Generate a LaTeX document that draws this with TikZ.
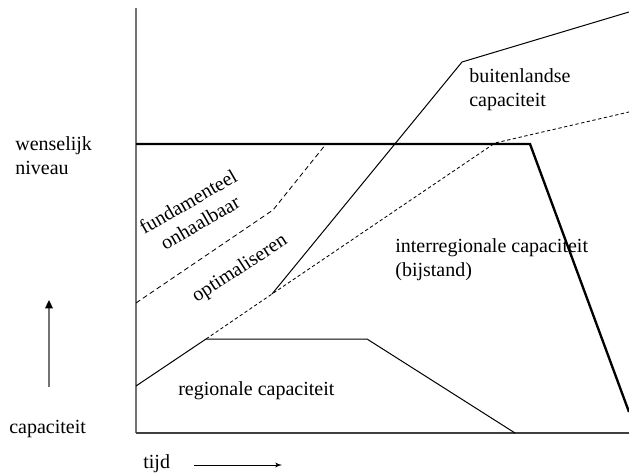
\documentclass[tikz,border=0pt]{standalone}
\usepackage{fontspec}
\setmainfont{Liberation Serif}
\usetikzlibrary{arrows,arrows.meta,positioning}

\begin{document}
\begin{tikzpicture}[x=0.6pt, y=-0.6pt, font=\fontsize{12}{14.4}\selectfont]
\tikzstyle{axis} = [draw, black!55, line width=1.1pt]
\tikzstyle{level} = [draw, line width=1.4pt]
\tikzstyle{curve} = [draw, line width=0.6pt]
\tikzstyle{bound} = [draw, line width=0.5pt, dash pattern=on 3pt off 2pt]
\tikzstyle{optim} = [draw, line width=0.5pt, dash pattern=on 2pt off 1.5pt]
\tikzstyle{label} = [inner sep=0pt, anchor=base west, align=left]
\tikzstyle{line} = [draw, -latex']

\useasboundingbox (0,0) rectangle (629,473);

% assen
\coordinate (origin) at (136,433);
\coordinate (ytop) at (136,8);
\coordinate (xend) at (629,433);
\path [axis] (ytop) -- (origin);
\path [axis, black!75] (origin) -- (xend);

% wenselijk niveau
\coordinate (w1) at (136,144);
\coordinate (w2) at (530,144);
\coordinate (w3) at (629,412);
\path [level] (w1) -- (w2) -- (w3);

% regionale capaciteit
\coordinate (r1) at (136,386);
\coordinate (r2) at (206,339);
\coordinate (r3) at (367,339);
\coordinate (r4) at (515,433);
\path [curve] (r1) -- (r2) -- (r3) -- (r4);

% grens optimaliseren
\coordinate (o1) at (272,294);
\coordinate (o2) at (495,143);
\coordinate (o3) at (629,112);
\path [optim] (r2) -- (o1) -- (o2) -- (o3);

% buitenlandse capaciteit
\coordinate (b1) at (462,62);
\coordinate (b2) at (629,12);
\path [curve] (o1) -- (b1) -- (b2);

% fundamenteel onhaalbaar
\coordinate (f1) at (136,303);
\coordinate (f2) at (273,210);
\coordinate (f3) at (326,144);
\path [bound] (f1) -- (f2) -- (f3);

% teksten (base = laatste regel)
\node [label] (wens) at (15,175) {wenselijk\\niveau};
\node [label] (cap) at (9,433) {capaciteit};
\node [label] (tijd) at (143,468) {tijd};
\node [label] (reg) at (178,395) {regionale capaciteit};
\node [label] (inter) at (395,276) {interregionale capaciteit\\(bijstand)};
\node [label] (buit) at (469,107) {buitenlandse\\capaciteit};
\node [inner sep=0pt, align=center, rotate=30] (fund) at (194,212) {fundamenteel\\onhaalbaar};
\node [inner sep=0pt, rotate=33] (opt) at (240,269) {optimaliseren};

% pijlen
\coordinate (c1) at (49,387);
\coordinate (c2) at (49,300);
\path [draw, black!55, line width=1pt, -{Triangle[black, length=5pt, width=4.5pt]}] (c1) -- (c2);
\coordinate (t1) at (194,465);
\coordinate (t2) at (282,465);
\path [line] (t1) -- (t2);

\end{tikzpicture}
\end{document}
